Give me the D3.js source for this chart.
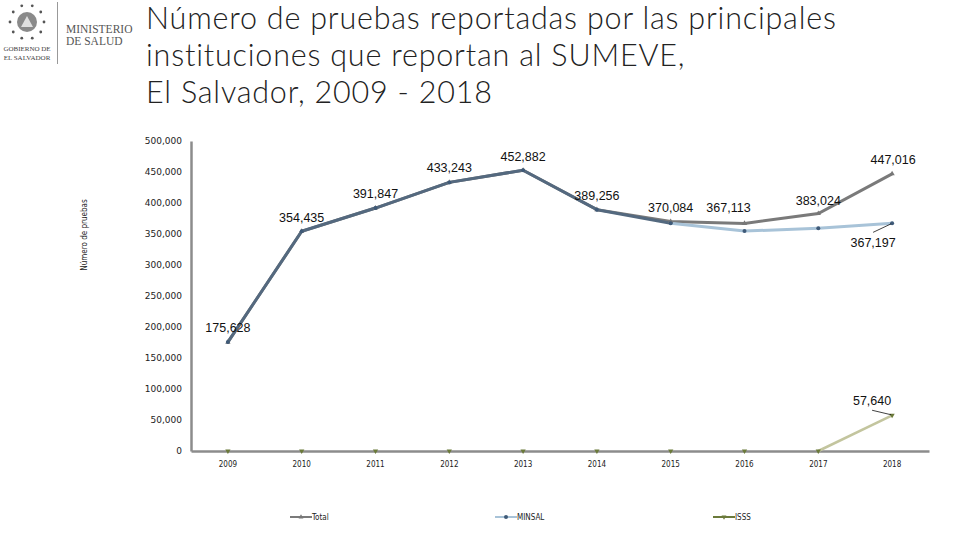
<!DOCTYPE html>
<html><head><meta charset="utf-8">
<script src="https://cdn.jsdelivr.net/npm/d3@7"></script>
<style>body{margin:0;background:#fff;}svg{display:block;}</style>
</head><body>
<svg id="c" width="960" height="540"></svg>
<script>
const years = ["2009","2010","2011","2012","2013","2014","2015","2016","2017","2018"];
const total = [175628,354435,391847,433243,452882,389256,370084,367113,383024,447016];
const minsal = [175628,354435,391847,433243,452882,389256,367200,354800,359200,367197];
const isss = [0,0,0,0,0,0,0,0,0,57640];
const yTicks = [0,50000,100000,150000,200000,250000,300000,350000,400000,450000,500000];
const titleLines = ["Número de pruebas reportadas por las principales","instituciones que reportan al SUMEVE,","El Salvador, 2009 - 2018"];
const seriesNames = ["Total","MINSAL","ISSS"];

const svg = d3.select("#c");
const fmt = d3.format(",");

// Logo
const logo = svg.append("g");
const lg = logo.append("g").attr("transform","translate(27,22)");
d3.range(10).forEach(i=>{const a=i/10*2*Math.PI;lg.append("circle").attr("cx",Math.cos(a)*17).attr("cy",Math.sin(a)*17).attr("r",1.4).attr("fill","#555");});
lg.append("circle").attr("r",10).attr("fill","#8a8a8a");
lg.append("path").attr("d","M-6,5 L0,-6 L6,5 Z").attr("fill","#e0e0e0");
logo.append("text").attr("x",27).attr("y",51).attr("text-anchor","middle").attr("font-family","Liberation Serif").attr("font-size",7).attr("fill","#444").text("GOBIERNO DE");
logo.append("text").attr("x",27).attr("y",60).attr("text-anchor","middle").attr("font-family","Liberation Serif").attr("font-size",7).attr("fill","#444").text("EL SALVADOR");
logo.append("line").attr("x1",57.5).attr("x2",57.5).attr("y1",2).attr("y2",64).attr("stroke","#999").attr("stroke-width",1);
logo.append("text").attr("x",66).attr("y",33).attr("font-family","Liberation Serif").attr("font-size",11.5).attr("fill","#555").text("MINISTERIO");
logo.append("text").attr("x",66).attr("y",45).attr("font-family","Liberation Serif").attr("font-size",11.5).attr("fill","#555").text("DE SALUD");

// Title
titleLines.forEach((t,i)=>{
  svg.append("text").attr("x",146).attr("y",29+i*37).attr("font-family","Lato").attr("font-weight",300)
    .attr("font-size",30.5).attr("letter-spacing",0.8).attr("fill","#222").text(t);
});

const x = d3.scaleBand().domain(years).range([191,929]);
const y = d3.scaleLinear().domain([0,500000]).range([451,141]);
const cx = d=>x(d)+x.bandwidth()/2;

// axes
const yAx = svg.append("g").attr("transform","translate(191,0)")
  .call(d3.axisLeft(y).tickValues(yTicks).tickSize(0).tickPadding(9).tickFormat(d=>d===0?"0":fmt(d)));
yAx.select(".domain").attr("stroke","#8c8c8c").attr("stroke-width",2.5);
yAx.selectAll("text").attr("font-family","DejaVu Sans").attr("font-size",9).attr("fill","#222");

const xAx = svg.append("g").attr("transform","translate(0,451)")
  .call(d3.axisBottom(x).tickSize(0).tickPadding(10));
xAx.select(".domain").attr("stroke","#8c8c8c").attr("stroke-width",2.5);
xAx.selectAll("text").attr("font-family","DejaVu Sans Condensed").attr("font-size",8).attr("fill","#222");

svg.append("text").attr("transform","translate(87,235) rotate(-90)").attr("text-anchor","middle")
  .attr("font-family","DejaVu Sans Condensed").attr("font-size",8).attr("fill","#222").text("Número de pruebas");

const line = d3.line().x((d,i)=>cx(years[i])).y(d=>y(d));

// ISSS
const isssPts = isss.map((v,i)=>[cx(years[i]),y(v)]);
for(let i=0;i<isss.length-1;i++){
  if(isss[i]===0 && isss[i+1]===0) continue;
  svg.append("line").attr("x1",isssPts[i][0]).attr("y1",isssPts[i][1]).attr("x2",isssPts[i+1][0]).attr("y2",isssPts[i+1][1])
    .attr("stroke","#c3c59e").attr("stroke-width",2.5);
}
// Total line
svg.append("path").datum(total).attr("d",line).attr("fill","none").attr("stroke","#7a7a7a").attr("stroke-width",3);
// MINSAL line segments
for(let i=0;i<minsal.length-1;i++){
  svg.append("line").attr("x1",cx(years[i])).attr("y1",y(minsal[i])).attr("x2",cx(years[i+1])).attr("y2",y(minsal[i+1]))
    .attr("stroke", i<6 ? "#54697f" : "#a8c3d8").attr("stroke-width",3).attr("stroke-linecap","round");
}
// markers
total.forEach((v,i)=>svg.append("path").attr("transform",`translate(${cx(years[i])},${y(v)})`).attr("d",d3.symbol(d3.symbolTriangle,12)()).attr("fill","#777"));
minsal.forEach((v,i)=>svg.append("circle").attr("cx",cx(years[i])).attr("cy",y(v)).attr("r",2).attr("fill","#3f5a78"));
isss.forEach((v,i)=>svg.append("path").attr("transform",`translate(${cx(years[i])},${y(v)}) rotate(180)`).attr("d",d3.symbol(d3.symbolTriangle,12)()).attr("fill","#6b7a3a"));

// data labels
const lblOff = [[0,-10],[0,-9],[0,-10],[0,-10],[0,-9],[0,-10],[0,-10],[-16,-11],[0,-9],[1,-10]];
const tf = "Liberation Sans";
total.forEach((v,i)=>{
  svg.append("text").attr("x",cx(years[i])+lblOff[i][0]).attr("y",y(v)+lblOff[i][1]).attr("text-anchor","middle")
    .attr("font-family",tf).attr("font-size",12.5).attr("fill","#111").text(fmt(v));
});
const mi = 9;
svg.append("text").attr("x",cx(years[mi])-19).attr("y",y(minsal[mi])+24).attr("text-anchor","middle")
  .attr("font-family",tf).attr("font-size",12.5).attr("fill","#111").text(fmt(minsal[mi]));
svg.append("line").attr("x1",cx(years[mi])-19).attr("y1",y(minsal[mi])+9).attr("x2",cx(years[mi])-1).attr("y2",y(minsal[mi])+0.5).attr("stroke","#111").attr("stroke-width",0.8);
svg.append("text").attr("x",cx(years[9])-20).attr("y",y(isss[9])-10).attr("text-anchor","middle")
  .attr("font-family",tf).attr("font-size",12.5).attr("fill","#111").text(fmt(isss[9]));
svg.append("line").attr("x1",cx(years[9])-20).attr("y1",y(isss[9])-5).attr("x2",cx(years[9])-1).attr("y2",y(isss[9])-0.5).attr("stroke","#111").attr("stroke-width",0.8);

// legend
const legX = [290,495,713];
const legCol = ["#7a7a7a","#a8c3d8","#6b7a3a"];
seriesNames.forEach((n,i)=>{
  const g = svg.append("g").attr("transform",`translate(${legX[i]},517)`);
  g.append("line").attr("x1",0).attr("x2",22).attr("stroke",legCol[i]).attr("stroke-width",2);
  if(i===0) g.append("path").attr("transform","translate(11,0)").attr("d",d3.symbol(d3.symbolTriangle,10)()).attr("fill","#777");
  if(i===1) g.append("circle").attr("cx",11).attr("r",2).attr("fill","#3f5a78");
  if(i===2) g.append("path").attr("transform","translate(11,0) rotate(180)").attr("d",d3.symbol(d3.symbolTriangle,10)()).attr("fill","#6b7a3a");
  g.append("text").attr("x",22).attr("y",3).attr("font-family","DejaVu Sans Condensed").attr("font-size",8).attr("fill","#222").text(n);
});
</script>
</body></html>
